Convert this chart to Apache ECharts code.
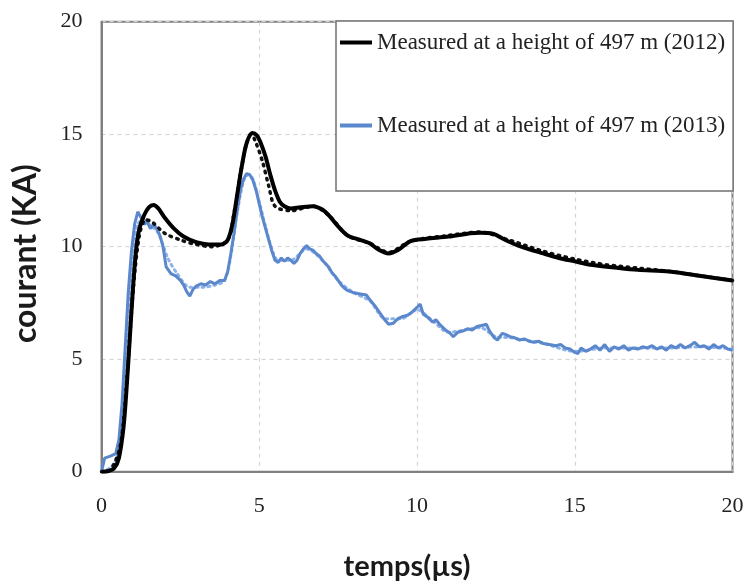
<!DOCTYPE html>
<html>
<head>
<meta charset="utf-8">
<script src="https://cdn.jsdelivr.net/npm/echarts@6/dist/echarts.min.js"></script>
<style>html,body{margin:0;padding:0;background:#fff;}#c{width:748px;height:587px;}</style>
</head>
<body>
<div id="c"></div>
<script>
const xTicks = [0, 5, 10, 15, 20];
const yTicks = [0, 5, 10, 15, 20];
const name2012 = 'Measured at a height of 497 m (2012)';
const name2013 = 'Measured at a height of 497 m (2013)';

const measured2012 = [[0,0],[0.2,0.02],[0.4,0.15],[0.55,0.6],[0.7,2.0],[0.8,3.8],[0.9,6.0],[1.0,8.2],[1.1,9.9],[1.2,10.8],[1.35,11.4],[1.5,11.75],[1.65,11.85],[1.8,11.7],[2.0,11.3],[2.3,10.8],[2.6,10.45],[3.0,10.2],[3.4,10.1],[3.8,10.1],[4.0,10.3],[4.15,11.0],[4.3,12.3],[4.45,13.6],[4.6,14.6],[4.78,15.05],[4.92,14.95],[5.05,14.6],[5.2,14.0],[5.35,13.2],[5.5,12.5],[5.65,12.0],[5.8,11.8],[6.0,11.7],[6.3,11.75],[6.7,11.8],[7.0,11.65],[7.2,11.4],[7.5,10.9],[7.8,10.5],[8.2,10.3],[8.5,10.15],[8.8,9.85],[9.1,9.7],[9.4,9.85],[9.8,10.25],[10.3,10.35],[11,10.45],[11.7,10.6],[12.0,10.62],[12.4,10.58],[12.8,10.3],[13.3,10.0],[14.0,9.7],[14.5,9.5],[15,9.35],[15.5,9.2],[16.4,9.05],[17,8.97],[18,8.9],[19,8.7],[20,8.5]];

const model2012 = [[0,0],[0.3,0.1],[0.6,1.2],[0.8,4.0],[1.0,8.0],[1.2,10.5],[1.4,11.2],[1.6,11.1],[2.0,10.6],[2.5,10.3],[3.0,10.1],[3.5,10.0],[4.0,10.3],[4.2,11.5],[4.4,13.2],[4.6,14.6],[4.75,15.0],[4.9,14.6],[5.1,13.8],[5.3,12.7],[5.5,11.8],[6.0,11.6],[6.7,11.8],[7.2,11.4],[7.8,10.5],[8.5,10.15],[9.1,9.75],[9.8,10.25],[11,10.5],[12,10.65],[12.8,10.35],[14,9.8],[15,9.45],[16,9.2],[17,9.05],[18,8.9],[19,8.7],[20,8.5]];

const measured2013 = [[0,0],[0.05,0.3],[0.1,0.6],[0.3,0.7],[0.45,0.8],[0.55,1.4],[0.65,3.0],[0.75,5.5],[0.85,8.0],[0.95,9.8],[1.05,11.0],[1.15,11.55],[1.25,11.3],[1.35,11.0],[1.45,11.1],[1.55,10.8],[1.65,11.0],[1.75,10.8],[1.85,10.5],[1.95,10.0],[2.05,9.1],[2.2,8.8],[2.35,8.7],[2.5,8.5],[2.6,8.3],[2.7,8.0],[2.8,7.8],[2.9,8.1],[3.0,8.25],[3.15,8.35],[3.3,8.3],[3.45,8.45],[3.6,8.35],[3.75,8.5],[3.9,8.5],[4.0,8.9],[4.1,9.7],[4.2,10.6],[4.3,11.6],[4.4,12.5],[4.5,13.0],[4.6,13.25],[4.7,13.2],[4.8,12.95],[4.9,12.5],[5.0,11.9],[5.1,11.3],[5.2,10.8],[5.3,10.3],[5.4,9.8],[5.5,9.4],[5.6,9.3],[5.7,9.5],[5.8,9.35],[5.9,9.5],[6.0,9.4],[6.1,9.25],[6.2,9.4],[6.3,9.7],[6.4,9.9],[6.5,10.05],[6.6,9.9],[6.7,9.85],[6.8,9.7],[6.9,9.6],[7.0,9.4],[7.1,9.25],[7.2,9.1],[7.3,8.85],[7.4,8.7],[7.5,8.5],[7.6,8.3],[7.7,8.15],[7.8,8.05],[7.9,8.0],[8.0,7.95],[8.2,7.9],[8.4,7.85],[8.5,7.65],[8.65,7.4],[8.8,7.1],[8.95,6.8],[9.1,6.55],[9.25,6.6],[9.4,6.8],[9.55,6.9],[9.7,6.95],[9.85,7.1],[10.0,7.3],[10.1,7.45],[10.2,7.0],[10.35,6.85],[10.5,6.65],[10.6,6.75],[10.75,6.5],[10.9,6.3],[11.05,6.15],[11.15,6.0],[11.3,6.2],[11.45,6.25],[11.6,6.35],[11.75,6.3],[11.9,6.45],[12.05,6.5],[12.2,6.55],[12.3,6.25],[12.45,5.95],[12.55,5.85],[12.7,6.15],[12.8,6.1],[12.95,6.0],[13.1,5.95],[13.25,5.85],[13.4,5.9],[13.55,5.8],[13.7,5.75],[13.85,5.8],[14.0,5.7],[14.2,5.65],[14.4,5.6],[14.55,5.65],[14.7,5.5],[14.85,5.45],[15.0,5.3],[15.1,5.25],[15.2,5.5],[15.35,5.35],[15.5,5.45],[15.65,5.6],[15.8,5.4],[15.95,5.65],[16.1,5.35],[16.25,5.55],[16.4,5.45],[16.55,5.6],[16.7,5.4],[16.85,5.5],[17.0,5.45],[17.15,5.55],[17.3,5.5],[17.45,5.6],[17.6,5.45],[17.75,5.55],[17.9,5.4],[18.05,5.6],[18.2,5.5],[18.35,5.65],[18.5,5.5],[18.65,5.6],[18.8,5.75],[18.95,5.55],[19.1,5.6],[19.25,5.45],[19.4,5.65],[19.55,5.5],[19.7,5.6],[19.85,5.45],[20.0,5.4]];

const model2013 = [[0,0],[0.3,0.2],[0.5,0.7],[0.65,2.5],[0.8,5.5],[0.95,8.7],[1.05,10.3],[1.15,11.0],[1.3,11.2],[1.5,11.0],[1.8,10.6],[2.1,9.5],[2.4,8.8],[2.8,8.2],[3.2,8.2],[3.6,8.3],[3.9,8.5],[4.1,9.6],[4.3,11.5],[4.5,12.9],[4.65,13.2],[4.8,13.0],[5.0,12.0],[5.2,10.9],[5.4,9.9],[5.6,9.4],[6.0,9.4],[6.5,9.9],[7.0,9.4],[7.5,8.5],[8.0,7.95],[8.5,7.6],[9.0,6.8],[9.5,6.8],[10,7.2],[10.5,6.7],[11,6.2],[12,6.4],[12.5,6.0],[13,5.95],[14,5.7],[15,5.35],[16,5.5],[17,5.5],[18,5.5],[19,5.55],[20,5.45]];

const chart = echarts.init(document.getElementById('c'), null, {renderer: 'canvas'});
const serif = 'Liberation Serif';
chart.setOption({
  animation: false,
  backgroundColor: '#fff',
  grid: {left: 101.5, right: 15.5, top: 21.7, bottom: 115.3, show: true, borderColor: '#808080', borderWidth: 2, containLabel: false},
  legend: {
    data: [name2012, name2013],
    orient: 'vertical',
    left: 336, top: 21,
    padding: [10, 8, 54, 4],
    itemGap: 60,
    itemWidth: 32, itemHeight: 4,
    icon: 'rect',
    backgroundColor: '#fff',
    borderColor: '#707070', borderWidth: 1.5,
    textStyle: {fontFamily: serif, fontSize: 23, color: '#222'},
    z: 10
  },
  xAxis: {
    type: 'value', min: xTicks[0], max: xTicks[xTicks.length-1], interval: 5,
    name: 'temps(µs)', nameLocation: 'middle', nameGap: 80,
    nameTextStyle: {fontFamily: 'Lato', fontWeight: 'bold', fontSize: 29, color: '#1a1a1a', padding: [0, 20, 0, 0]},
    axisLine: {show: true, lineStyle: {color: '#808080', width: 2}},
    axisTick: {show: false},
    axisLabel: {fontFamily: serif, fontSize: 22, color: '#222', margin: 24},
    splitLine: {show: true, lineStyle: {color: '#d4d4d4', type: [4, 4], width: 1.2}}
  },
  yAxis: {
    type: 'value', min: yTicks[0], max: yTicks[yTicks.length-1], interval: 5,
    name: 'courant (KA)', nameLocation: 'middle', nameGap: 60,
    nameTextStyle: {fontFamily: 'Lato', fontWeight: 'bold', fontSize: 32, color: '#1a1a1a', padding: [0, 14, 0, 0]},
    axisLine: {show: true, lineStyle: {color: '#808080', width: 2}},
    axisTick: {show: false},
    axisLabel: {fontFamily: serif, fontSize: 22, color: '#222', margin: 19},
    splitLine: {show: true, lineStyle: {color: '#d4d4d4', type: [4, 4], width: 1.2}}
  },
  series: [
    {name: 'model2013', type: 'line', data: model2013, showSymbol: false, smooth: 0.3,
     lineStyle: {color: '#8db3ea', width: 3, type: [2, 4], cap: 'round'}, z: 2},
    {name: name2013, type: 'line', data: measured2013, showSymbol: false,
     itemStyle: {color: '#5b87cc'}, lineStyle: {color: '#5b87cc', width: 3}, z: 3},
    {name: 'model2012', type: 'line', data: model2012, showSymbol: false, smooth: 0.3,
     lineStyle: {color: '#111', width: 3.5, type: [1.5, 5.5], cap: 'round'}, z: 4},
    {name: name2012, type: 'line', data: measured2012, showSymbol: false, smooth: 0.3,
     itemStyle: {color: '#000'}, lineStyle: {color: '#000', width: 4}, z: 5}
  ]
});
</script>
</body>
</html>
